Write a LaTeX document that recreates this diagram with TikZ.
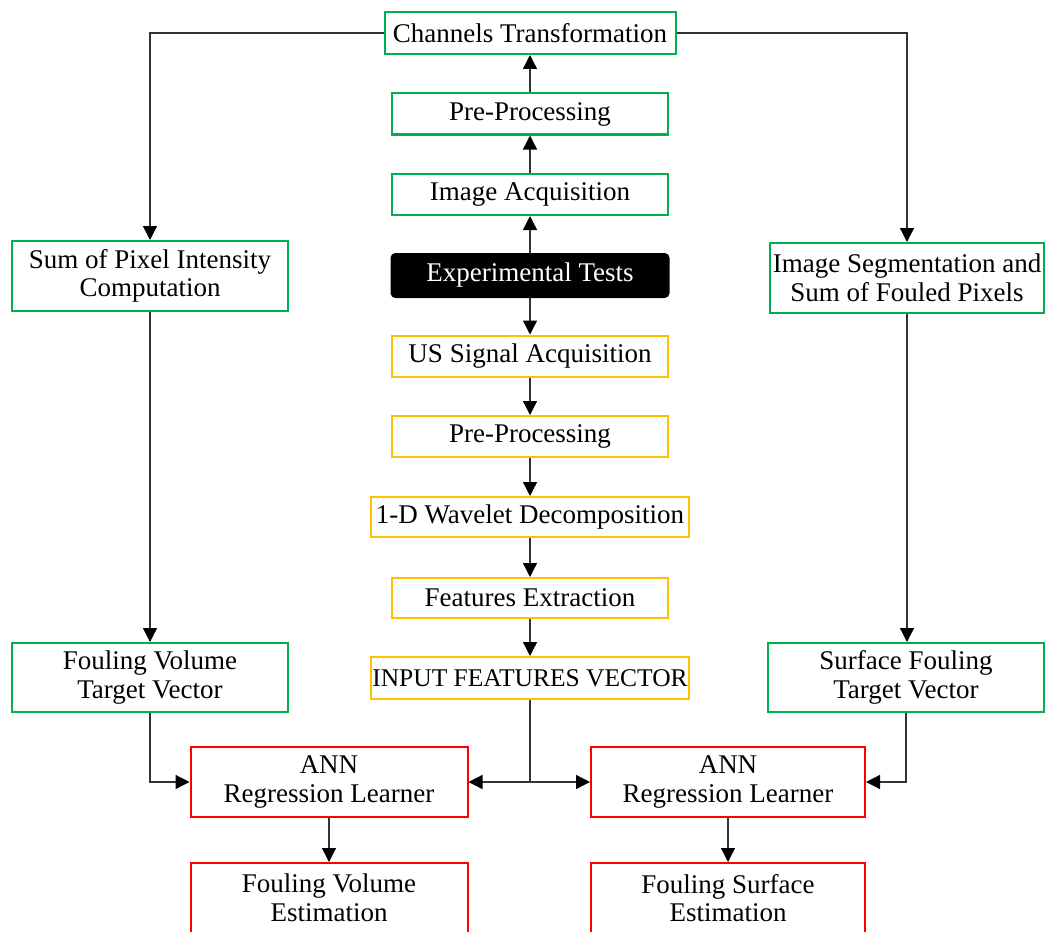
\documentclass[tikz,border=0pt]{standalone}
\usepackage{fontspec}
\setmainfont{Liberation Serif}
\usetikzlibrary{arrows.meta}
\definecolor{bgreen}{RGB}{0,176,80}
\definecolor{byellow}{RGB}{255,192,0}
\definecolor{bred}{RGB}{255,0,0}
\tikzset{
  base/.style={draw, line width=2pt, fill=white, align=center, inner sep=1pt,
    font=\fontsize{27}{28.5}\selectfont, text=black},
  gbox/.style={base, draw=bgreen},
  ybox/.style={base, draw=byellow},
  rbox/.style={base, draw=bred},
  kbox/.style={base, draw=black, fill=black, text=white, rounded corners=4pt},
  arr/.style={draw=black!80, line width=1.3pt, -{Triangle[length=14pt,width=14pt,color=black]}},
  conn/.style={draw=black!80, line width=1.3pt},
}
\begin{document}
\begin{tikzpicture}[x=1pt,y=-1pt]
\useasboundingbox[fill=white] (0,0) rectangle (1046,931);
% centre column
\node[gbox, minimum width=291pt, minimum height=42pt] (chan) at (530,33) {Channels Transformation};
\node[gbox, minimum width=276pt, minimum height=41pt] (pre1) at (530,114) {Pre-Processing};
\node[gbox, minimum width=276pt, minimum height=41pt] (img) at (530,194.5) {Image Acquisition};
\node[kbox, minimum width=277pt, minimum height=43pt] (exp) at (530,275.5) {Experimental Tests};
\node[ybox, minimum width=276pt, minimum height=41pt] (us) at (530,356) {US Signal Acquisition};
\node[ybox, minimum width=276pt, minimum height=41pt] (pre2) at (530,436.5) {Pre-Processing};
\node[ybox, minimum width=318pt, minimum height=40pt] (wav) at (530,517) {1-D Wavelet Decomposition};
\node[ybox, minimum width=276pt, minimum height=40pt] (feat) at (530,598) {Features Extraction};
\node[ybox, minimum width=318pt, minimum height=42pt, inner sep=0pt, font=\fontsize{25.5}{28}\selectfont] (inp) at (530,678) {INPUT FEATURES VECTOR};
% side columns
\node[gbox, minimum width=276pt, minimum height=70pt] (sum) at (150,276) {Sum of Pixel Intensity\\Computation};
\node[gbox, minimum width=274pt, minimum height=70pt] (seg) at (907,278) {Image Segmentation and\\Sum of Fouled Pixels};
\node[gbox, minimum width=276pt, minimum height=69pt] (fvt) at (150,677.5) {Fouling Volume\\Target Vector};
\node[gbox, minimum width=276pt, minimum height=69pt] (sft) at (906,677.5) {Surface Fouling\\Target Vector};
% bottom
\node[rbox, minimum width=277pt, minimum height=70pt] (annL) at (329,782) {ANN\\Regression Learner};
\node[rbox, minimum width=274pt, minimum height=70pt] (annR) at (728,782) {ANN\\Regression Learner};
\node[rbox, minimum width=277pt, minimum height=70pt] (estL) at (329,898) {Fouling Volume\\Estimation};
\node[rbox, minimum width=274pt, minimum height=70pt] (estR) at (728,898) {Fouling Surface\\Estimation};
% connectors
\draw[arr] (pre1) -- (chan);
\draw[arr] (img) -- (pre1);
\draw[arr] (exp) -- (img);
\draw[arr] (exp) -- (us);
\draw[arr] (us) -- (pre2);
\draw[arr] (pre2) -- (wav);
\draw[arr] (wav) -- (feat);
\draw[arr] (feat) -- (inp);
\draw[arr] (chan.west) -| (sum.north);
\draw[arr] (chan.east) -| (seg.north);
\draw[arr] (sum) -- (fvt);
\draw[arr] (seg.south) -- (seg.south |- sft.north);
\draw[arr] (fvt.south) |- (annL.west);
\draw[arr] (sft.south) |- (annR.east);
\coordinate (j) at (inp.south |- annL.east);
\draw[conn] (inp.south) -- (j);
\draw[arr] (j) -- (annL.east);
\draw[arr] (j) -- (annR.west);
\draw[arr] (annL) -- (estL);
\draw[arr] (annR) -- (estR);
\end{tikzpicture}
\end{document}
